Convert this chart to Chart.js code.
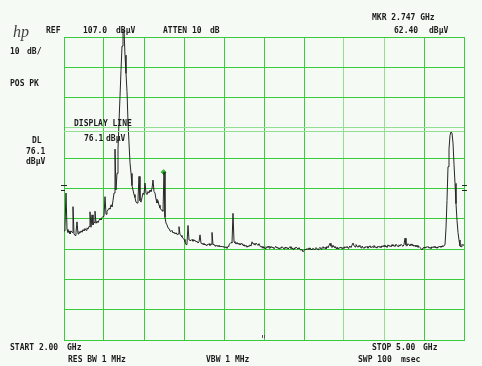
<!DOCTYPE html>
<html>
<head>
<meta charset="utf-8">
<script src="https://cdn.jsdelivr.net/npm/chart.js@4"></script>
<style>
  html, body { margin: 0; padding: 0; background: #f5faf5; }
  canvas { display: block; }
</style>
</head>
<body>
<canvas id="sa" width="482" height="366"></canvas>
<script>
// sweep: 401 trace points from START to STOP
const startGHz = 2.0;
const stopGHz = 5.0;
const refLevel = 107.0;   // dBuV, top of screen
const dbPerDiv = 10;
const displayLine = 76.1;
const markerGHz = 2.747;
const markerDb = 62.4;

const traceDb = [
  43.0, 44.5, 55.5, 43.5, 42.5, 43.0, 42.0, 43.0, 42.5, 51.0,
  42.0, 41.5, 42.5, 46.0, 42.0, 42.8, 42.3, 43.0, 42.6, 43.4,
  43.0, 43.8, 43.2, 44.0, 43.6, 44.5, 49.3, 44.2, 48.3, 45.0,
  45.8, 49.5, 45.5, 46.2, 45.8, 46.5, 47.0, 46.6, 47.4, 47.8,
  48.0, 54.3, 48.5, 49.5, 49.9, 50.5, 50.2, 51.6, 51.0, 53.0,
  55.5, 70.0, 56.5, 62.0, 70.0, 79.0, 87.3, 96.0, 104.0, 109.5,
  109.5, 101.0, 95.0, 89.0, 79.0, 72.0, 65.5, 62.0, 58.0, 56.5,
  55.0, 54.0, 52.5, 52.2, 53.5, 61.0, 53.0, 52.5, 54.0, 55.5,
  55.0, 58.8, 55.5, 55.0, 56.0, 55.5, 56.5, 56.0, 57.0, 59.8,
  56.0, 55.5, 53.5, 52.2, 53.0, 51.5, 50.6, 50.0, 49.8, 49.5,
  62.4, 47.5, 45.6, 45.0, 44.0, 43.8, 43.0, 42.8, 43.2, 42.3,
  42.6, 42.0, 42.4, 41.8, 42.0, 44.4, 41.8, 41.5, 41.0, 40.6,
  40.2, 39.4, 38.5, 39.0, 44.8, 40.0, 40.0, 39.8, 40.2, 39.6,
  40.0, 39.8, 39.4, 39.6, 39.0, 39.4, 41.7, 39.0, 38.6, 38.9,
  38.4, 38.7, 38.2, 38.5, 38.4, 38.8, 38.2, 38.6, 42.5, 38.4,
  38.6, 38.0, 38.3, 37.9, 38.2, 37.8, 38.1, 37.7, 38.0, 37.6,
  37.9, 37.4, 37.8, 37.2, 37.9, 38.5, 38.8, 39.2, 39.0, 48.8,
  39.5, 39.0, 38.8, 39.2, 38.6, 38.9, 38.4,
  38.6, 38.9, 38.2, 38.5, 37.9, 38.3, 37.6, 38.1, 37.8, 38.4, 38.0, 39.4, 38.7, 38.9, 38.3, 39.0, 38.6, 38.2, 38.8, 38.0,
  37.6, 37.9, 37.3, 37.7, 37.1, 37.8, 37.4, 38.0, 37.5, 37.2, 37.9, 37.4, 37.7, 37.1, 37.6, 37.9, 37.3, 37.6, 37.0, 37.5,
  37.2, 37.8, 37.4, 37.1, 37.7, 37.3, 37.6, 37.0, 37.4, 37.8, 37.2, 37.5, 36.9, 37.4, 37.1, 37.7, 37.3, 37.0, 37.5, 36.9,
  36.6, 36.9, 36.1, 36.5, 37.0, 36.7, 37.2, 36.8, 37.4, 36.9, 37.1, 36.7, 37.3, 36.8, 37.0, 37.5, 37.1, 36.8, 37.2, 37.6,
  37.0, 37.4, 37.8, 37.2, 37.6, 37.1, 37.9, 37.4, 38.2, 38.9, 38.0, 37.5, 38.3, 37.6, 37.9, 37.2, 37.7, 37.0, 37.5, 37.3,
  37.7, 37.1, 37.6, 37.2, 37.8, 37.4, 37.9, 37.3, 37.7, 38.0, 37.5, 38.3, 39.0, 38.2, 37.7, 38.5, 38.0, 37.6, 38.2, 37.8,
  37.4, 38.0, 37.6, 37.2, 37.8, 37.5, 37.9, 37.3, 37.7, 38.1, 37.4, 37.9, 37.6, 38.2, 37.5, 37.8, 37.3, 38.0, 37.6, 37.9,
  37.5, 38.1, 37.7, 38.3, 37.8, 38.0, 37.6, 38.4, 37.9, 38.2, 37.7, 38.5, 38.0, 38.3, 37.8, 38.6, 38.1, 37.9, 38.4, 38.0,
  38.6, 38.2, 37.9, 38.5, 40.6, 38.3, 38.0, 38.8, 38.4, 38.1, 38.7, 38.2, 38.5, 37.9, 38.3, 37.8, 38.2, 37.6, 37.9, 37.5,
  37.2, 36.7, 37.4, 37.7, 37.3, 37.8, 37.5, 37.9, 37.3, 37.6, 37.2, 37.8, 37.4, 37.9, 37.5, 37.7, 37.3, 37.8, 37.6, 38.0,
  37.6, 38.1, 37.8, 38.2, 38.4, 44.0, 53.0, 64.2, 70.0, 74.5, 75.7, 75.3, 72.0, 65.0, 58.7, 52.0, 46.5, 42.5, 40.0, 38.0,
  37.8, 38.6, 38.2, 38.5,
];

// annotation texts [text, x, baseline]
const labels = [
  ['REF', 46, 33], ['107.0', 83, 33], ['dBµV', 116, 33],
  ['ATTEN 10', 163, 33], ['dB', 210, 33],
  ['MKR 2.747 GHz', 372, 20],
  ['62.40', 394, 33], ['dBµV', 429, 33],
  ['10', 10, 54], ['dB/', 27, 54],
  ['POS PK', 10, 86],
  ['DL', 32, 143], ['76.1', 26, 154], ['dBµV', 26, 164],
  ['DISPLAY LINE', 74, 126],
  ['76.1', 84, 141], ['dBµV', 106, 141],
  ['START 2.00', 10, 350], ['GHz', 67, 350],
  ['STOP 5.00', 372, 350], ['GHz', 423, 350],
  ['RES BW 1 MHz', 68, 362],
  ['VBW 1 MHz', 206, 362],
  ['SWP 100', 358, 362], ['msec', 401, 362],
];

const GREEN = '#3acb3a';
const PALE = '#94dd94';

const stepGHz = (stopGHz - startGHz) / (traceDb.length - 1);
const tracePoints = traceDb.map((v, i) => ({ x: startGHz + i * stepGHz, y: v }));

const screenText = {
  id: 'screenText',
  beforeDraw(chart) {
    const ctx = chart.ctx;
    ctx.save();
    ctx.fillStyle = '#f5faf5';
    ctx.fillRect(0, 0, chart.width, chart.height);
    ctx.restore();
  },
  afterDatasetsDraw(chart) {
    const { ctx, chartArea: a, scales } = chart;
    ctx.save();
    // display line
    const yDl = Math.round(scales.y.getPixelForValue(displayLine)) + 0.5;
    ctx.strokeStyle = PALE;
    ctx.lineWidth = 1;
    ctx.beginPath();
    ctx.moveTo(a.left, yDl);
    ctx.lineTo(a.right, yDl);
    ctx.stroke();

    // edge threshold ticks
    ctx.strokeStyle = '#222';
    ctx.beginPath();
    ctx.moveTo(a.left - 3, 185.5); ctx.lineTo(a.left + 3, 185.5);
    ctx.moveTo(a.left - 3, 190.5); ctx.lineTo(a.left + 1, 190.5);
    ctx.moveTo(a.right - 2, 185.5); ctx.lineTo(a.right + 3, 185.5);
    ctx.moveTo(a.right - 2, 190.5); ctx.lineTo(a.right + 3, 190.5);
    ctx.stroke();
    ctx.fillStyle = '#555';
    ctx.fillRect(262, 335, 1, 3);
    ctx.fillRect(264, 335, 1, 3);

    ctx.fillStyle = '#1a1a1a';
    ctx.font = 'bold 8px "DejaVu Sans Mono"';
    ctx.textBaseline = 'alphabetic';
    labels.forEach(([t, x, y]) => ctx.fillText(t, x, y));

    ctx.fillStyle = '#444';
    ctx.font = 'italic 16px "Liberation Serif"';
    ctx.fillText('hp', 13, 37);
    ctx.restore();
  },
};

new Chart(document.getElementById('sa'), {
  type: 'line',
  data: {
    datasets: [
      {
        data: tracePoints,
        borderColor: '#262626',
        borderWidth: 1,
        pointRadius: 0,
        tension: 0,
        clip: false,
      },
      {
        data: [{ x: markerGHz, y: markerDb }],
        showLine: false,
        pointStyle: 'rectRot',
        pointRadius: 2.5,
        pointBackgroundColor: '#35b835',
        pointBorderColor: '#35b835',
      },
    ],
  },
  options: {
    responsive: false,
    animation: false,
    events: [],
    layout: { padding: { left: 64, right: 18, top: 37, bottom: 26 } },
    scales: {
      x: {
        type: 'linear',
        min: startGHz,
        max: stopGHz,
        ticks: { display: false, stepSize: (stopGHz - startGHz) / 10 },
        grid: {
          drawTicks: false,
          color: c => (c.index === 7 || c.index === 8 ? PALE : GREEN),
        },
        border: { color: GREEN },
        afterFit(s) { s.height = 0; },
      },
      y: {
        min: refLevel - 10 * dbPerDiv,
        max: refLevel,
        ticks: { display: false, stepSize: dbPerDiv },
        grid: {
          drawTicks: false,
          color: c => (c.index === 7 ? PALE : GREEN),
        },
        border: { color: GREEN },
        afterFit(s) { s.width = 0; },
      },
    },
    plugins: { legend: { display: false }, tooltip: { enabled: false } },
  },
  plugins: [screenText],
});
</script>
</body>
</html>
